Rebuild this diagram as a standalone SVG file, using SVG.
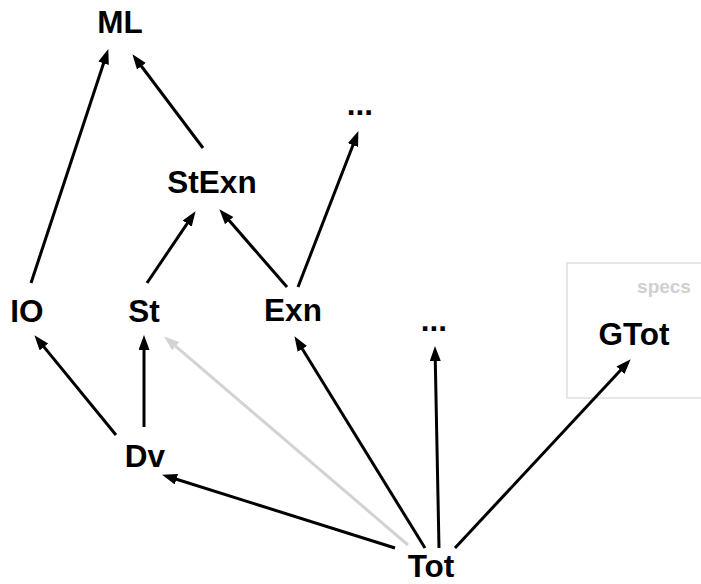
<svg xmlns="http://www.w3.org/2000/svg" width="701" height="584" viewBox="0 0 701 584">
<style>
.lbl{font-family:"Liberation Sans",Arial,sans-serif;font-weight:bold;font-size:31.5px;fill:#000;text-anchor:middle}
.spec{font-family:"Liberation Sans",Arial,sans-serif;font-weight:bold;font-size:19px;fill:#d0d0d0;text-anchor:middle}
.e{stroke:#000;stroke-width:3;fill:none;marker-end:url(#ah)}
.g{stroke:#d3d3d3;stroke-width:3;fill:none;marker-end:url(#ahg)}
</style>
<defs>
<marker id="ah" markerUnits="userSpaceOnUse" markerWidth="17" markerHeight="13" refX="9" refY="5.5" orient="auto"><path d="M0,0 L15,5.5 L0,11 z" fill="#000"/></marker>
<marker id="ahg" markerUnits="userSpaceOnUse" markerWidth="17" markerHeight="13" refX="9" refY="5.5" orient="auto"><path d="M0,0 L15,5.5 L0,11 z" fill="#d3d3d3"/></marker>
</defs>
<rect id="specs-box" x="567" y="263" width="150" height="135" fill="none" stroke="#dedede" stroke-width="1.5"/>
<g id="connectors">
<line class="g" x1="408" y1="545" x2="168.8" y2="340.3"/>
<line class="e" x1="31" y1="283" x2="106.4" y2="54.7"/>
<line class="e" x1="203" y1="148" x2="136" y2="59"/>
<line class="e" x1="147" y1="283" x2="192.2" y2="216.1"/>
<line class="e" x1="287" y1="287" x2="223.3" y2="213.8"/>
<line class="e" x1="298" y1="287" x2="356.2" y2="136.7"/>
<line class="e" x1="116" y1="435" x2="38.2" y2="339.9"/>
<line class="e" x1="144" y1="427" x2="144" y2="341"/>
<line class="e" x1="395" y1="548" x2="167.8" y2="476.5"/>
<line class="e" x1="425" y1="548" x2="297.6" y2="341.3"/>
<line class="e" x1="439" y1="548" x2="435.1" y2="352"/>
<line class="e" x1="455" y1="548" x2="626.6" y2="363.7"/>
</g>
<g id="ML"><text class="lbl" x="120" y="33">ML</text></g>
<g id="dots-top"><text class="lbl" x="360" y="115">...</text></g>
<g id="StExn"><text class="lbl" x="212" y="193">StExn</text></g>
<g id="IO"><text class="lbl" x="27" y="322">IO</text></g>
<g id="St"><text class="lbl" x="144" y="322">St</text></g>
<g id="Exn"><text class="lbl" x="293" y="321">Exn</text></g>
<g id="dots-mid"><text class="lbl" x="434" y="331">...</text></g>
<g id="specs"><text class="spec" x="664" y="293">specs</text></g>
<g id="GTot"><text class="lbl" x="634" y="345">GTot</text></g>
<g id="Dv"><text class="lbl" x="145" y="467">Dv</text></g>
<g id="Tot"><text class="lbl" x="431" y="577">Tot</text></g>
</svg>
